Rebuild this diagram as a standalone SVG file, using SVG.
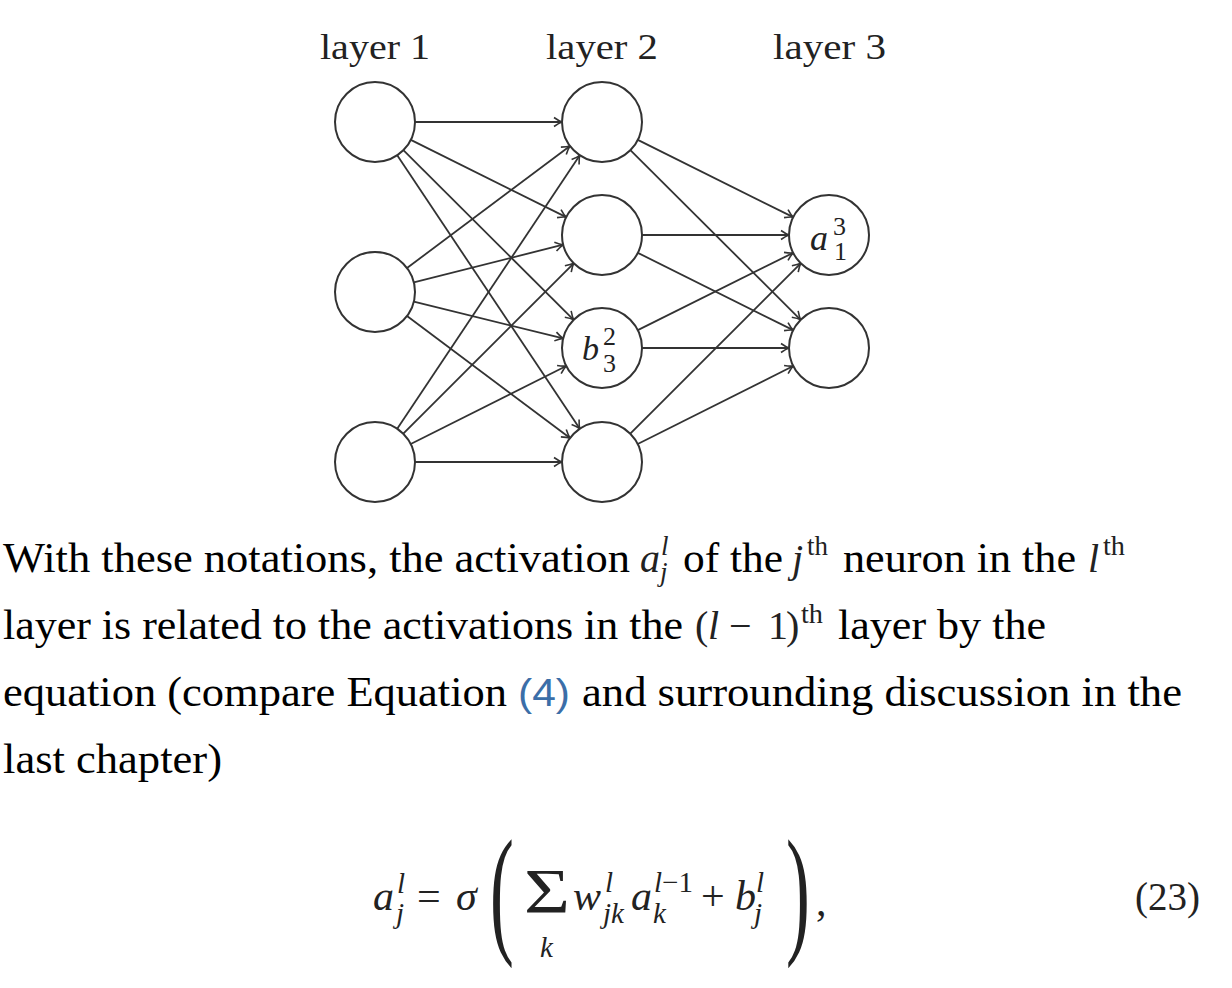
<svg xmlns="http://www.w3.org/2000/svg" width="1232" height="988" viewBox="0 0 1232 988">
<style>
.bg{fill:#ffffff}
.node{fill:#ffffff;stroke:#333333;stroke-width:2}
.edge{stroke:#333333;stroke-width:1.8;fill:none;marker-end:url(#arr)}
.lbl{font-family:"Liberation Serif",serif;fill:#222222}
.it{font-style:italic}
.para{font-family:"Liberation Serif",serif;font-size:42px;fill:#000000}
.math{font-family:"Liberation Serif",serif;fill:#222222}
.link{font-family:"Liberation Sans",sans-serif;font-size:38px;fill:#3b6ea8}
</style>
<defs>
<marker id="arr" viewBox="-10 -6 11 12" refX="0" refY="0" markerWidth="11" markerHeight="12" markerUnits="userSpaceOnUse" orient="auto">
<path d="M -8 -4.5 Q -3 -1 0 0 Q -3 1 -8 4.5" fill="none" stroke="#333333" stroke-width="1.6"/>
</marker>
</defs>
<rect class="bg" x="0" y="0" width="1232" height="988"/>

<g id="layer-labels">
<text class="lbl" x="320" y="59" font-size="36" textLength="110" lengthAdjust="spacingAndGlyphs">layer 1</text>
<text class="lbl" x="546" y="59" font-size="36" textLength="112" lengthAdjust="spacingAndGlyphs">layer 2</text>
<text class="lbl" x="773" y="59" font-size="36" textLength="113" lengthAdjust="spacingAndGlyphs">layer 3</text>
</g>

<g id="connectors">
<line class="edge" x1="415" y1="122" x2="562" y2="122"/>
<line class="edge" x1="410.81" y1="139.83" x2="566.19" y2="217.17"/>
<line class="edge" x1="403.35" y1="150.22" x2="573.65" y2="319.78"/>
<line class="edge" x1="397.21" y1="155.27" x2="579.79" y2="428.73"/>
<line class="edge" x1="407.02" y1="268.02" x2="569.98" y2="145.98"/>
<line class="edge" x1="413.80" y1="282.26" x2="563.20" y2="244.74"/>
<line class="edge" x1="413.84" y1="301.58" x2="563.16" y2="338.42"/>
<line class="edge" x1="407.02" y1="315.98" x2="569.98" y2="438.02"/>
<line class="edge" x1="397.21" y1="428.73" x2="579.79" y2="155.27"/>
<line class="edge" x1="403.28" y1="433.72" x2="573.72" y2="263.28"/>
<line class="edge" x1="410.75" y1="444.05" x2="566.25" y2="365.95"/>
<line class="edge" x1="415" y1="462" x2="562" y2="462"/>
<line class="edge" x1="637.81" y1="139.83" x2="793.19" y2="217.17"/>
<line class="edge" x1="630.35" y1="150.22" x2="800.65" y2="319.78"/>
<line class="edge" x1="642" y1="235" x2="789" y2="235"/>
<line class="edge" x1="637.81" y1="252.83" x2="793.19" y2="330.17"/>
<line class="edge" x1="637.81" y1="330.17" x2="793.19" y2="252.83"/>
<line class="edge" x1="642" y1="348" x2="789" y2="348"/>
<line class="edge" x1="630.28" y1="433.72" x2="800.72" y2="263.28"/>
<line class="edge" x1="637.75" y1="444.05" x2="793.25" y2="365.95"/>
</g>

<g id="n1-1"><circle class="node" cx="375" cy="122" r="40"/></g>
<g id="n1-2"><circle class="node" cx="375" cy="292" r="40"/></g>
<g id="n1-3"><circle class="node" cx="375" cy="462" r="40"/></g>
<g id="n2-1"><circle class="node" cx="602" cy="122" r="40"/></g>
<g id="n2-2"><circle class="node" cx="602" cy="235" r="40"/></g>
<g id="n2-3"><circle class="node" cx="602" cy="348" r="40"/>
<text class="lbl it" x="582" y="360" font-size="34">b</text>
<text class="lbl" x="603" y="345" font-size="26">2</text>
<text class="lbl" x="603" y="372" font-size="26">3</text>
</g>
<g id="n2-4"><circle class="node" cx="602" cy="462" r="40"/></g>
<g id="n3-1"><circle class="node" cx="829" cy="235" r="40"/>
<text class="lbl it" x="810" y="250" font-size="36">a</text>
<text class="lbl" x="833" y="235" font-size="26">3</text>
<text class="lbl" x="834" y="260" font-size="26">1</text>
</g>
<g id="n3-2"><circle class="node" cx="829" cy="348" r="40"/></g>

<g id="paragraph">
<text class="para" x="3" y="572" textLength="627" lengthAdjust="spacingAndGlyphs">With these notations, the activation</text>
<text class="math it" x="640" y="572" font-size="40">a</text>
<text class="math it" x="661" y="555" font-size="27">l</text>
<text class="math it" x="660" y="581" font-size="27">j</text>
<text class="para" x="683" y="572" textLength="100" lengthAdjust="spacingAndGlyphs">of the</text>
<text class="math it" x="792" y="572" font-size="40">j</text>
<text class="math" x="807" y="555" font-size="27" textLength="21" lengthAdjust="spacingAndGlyphs">th</text>
<text class="para" x="843" y="572" textLength="233" lengthAdjust="spacingAndGlyphs">neuron in the</text>
<text class="math it" x="1088" y="572" font-size="40">l</text>
<text class="math" x="1103" y="555" font-size="27" textLength="22" lengthAdjust="spacingAndGlyphs">th</text>

<text class="para" x="3" y="639" textLength="680" lengthAdjust="spacingAndGlyphs">layer is related to the activations in the</text>
<text class="math" x="695" y="639" font-size="40">(</text>
<text class="math it" x="708" y="639" font-size="40">l</text>
<text class="math" x="729" y="639" font-size="40">−</text>
<text class="math" x="768" y="639" font-size="40">1</text>
<text class="math" x="786" y="639" font-size="40">)</text>
<text class="math" x="801" y="623" font-size="27" textLength="22" lengthAdjust="spacingAndGlyphs">th</text>
<text class="para" x="838" y="639" textLength="208" lengthAdjust="spacingAndGlyphs">layer by the</text>

<text class="para" x="3" y="706" textLength="504" lengthAdjust="spacingAndGlyphs">equation (compare Equation</text>
<text class="link" x="518" y="706" textLength="52" lengthAdjust="spacingAndGlyphs">(4)</text>
<text class="para" x="582" y="706" textLength="600" lengthAdjust="spacingAndGlyphs">and surrounding discussion in the</text>

<text class="para" x="3" y="773" textLength="219" lengthAdjust="spacingAndGlyphs">last chapter)</text>
</g>

<g id="equation">
<text class="math it" x="373" y="910" font-size="42">a</text>
<text class="math it" x="397" y="893" font-size="29">l</text>
<text class="math it" x="396" y="923" font-size="29">j</text>
<text class="math" x="417" y="910" font-size="42">=</text>
<text class="math it" x="456" y="910" font-size="42">σ</text>
<text class="math" transform="translate(490,938) scale(0.5,1)" font-size="143">(</text>
<text class="math" x="524" y="913" font-size="63" textLength="46" lengthAdjust="spacingAndGlyphs">Σ</text>
<text class="math it" x="540" y="957" font-size="29">k</text>
<text class="math it" x="573" y="910" font-size="42">w</text>
<text class="math it" x="605" y="892" font-size="29">l</text>
<text class="math it" x="603" y="923" font-size="29">jk</text>
<text class="math it" x="631" y="910" font-size="42">a</text>
<text class="math" x="654" y="892" font-size="29"><tspan class="it">l</tspan>−1</text>
<text class="math it" x="653" y="923" font-size="29">k</text>
<text class="math" x="701" y="910" font-size="42">+</text>
<text class="math it" x="735" y="910" font-size="42">b</text>
<text class="math it" x="756" y="892" font-size="29">l</text>
<text class="math it" x="754" y="923" font-size="29">j</text>
<text class="math" transform="translate(786,938) scale(0.5,1)" font-size="143">)</text>
<text class="math" x="816" y="915" font-size="42">,</text>
<text class="math" x="1135" y="910" font-size="40" textLength="65" lengthAdjust="spacingAndGlyphs">(23)</text>
</g>
</svg>
